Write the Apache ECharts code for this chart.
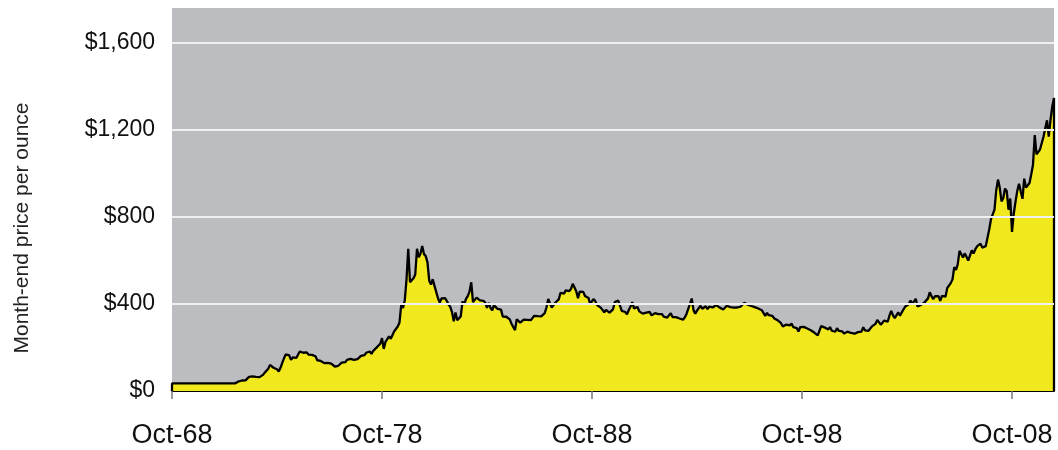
<!DOCTYPE html>
<html>
<head>
<meta charset="utf-8">
<script src="https://cdn.jsdelivr.net/npm/echarts@6/dist/echarts.min.js"></script>
<style>
html,body{margin:0;padding:0;background:#fff;}
#chart{width:1058px;height:450px;}
</style>
</head>
<body>
<div id="chart"></div>
<script>
// Month-end gold price (USD/oz), monthly from Oct-68 to Oct-10
const prices1968to1979 = [
  35,35,35,
  35,35,35,35,35,35,35,35,35,35,35,35,
  35,35,35,35,35,35,35,35,35,35,35,35,
  35,35,35,35,35,35,35,35,35,35,35,43.6,
  45.8,48.3,48.3,49.0,54.6,65.1,67.0,67.0,65.0,64.9,62.9,63.9,
  65.1,74.2,84.5,90.5,102.0,120.0,120.0,106.8,103.0,100.1,90.0,106.7,
  129.2,150.2,168.4,172.2,163.3,143.0,154.1,154.7,151.8,158.8,181.7,186.5,
  175.8,181.8,177.3,167.0,167.0,166.3,166.7,159.8,141.3,142.9,138.2,140.3,
  128.2,132.3,129.6,128.4,125.5,123.8,112.5,104.0,116.0,123.2,130.3,134.5,
  132.3,142.8,148.9,147.3,143.0,143.0,144.1,146.6,154.1,161.5,160.5,165.0,
  175.9,182.3,181.6,170.9,184.2,183.1,200.3,208.1,217.1,242.6,193.4,226.0,
  233.7,251.3,240.1,245.3,274.6,277.5,296.5,315.1,397.3,382.0,415.7,512.0
];
const prices1980s = [
  653.0,500.0,494.5,518.0,535.5,653.5,614.3,631.3,666.8,629.0,619.8,589.8,
  506.5,489.0,513.8,482.8,479.3,426.0,406.0,425.0,428.8,427.0,414.5,397.5,
  387.0,362.6,320.0,361.3,325.3,317.5,342.9,411.5,397.0,423.3,436.0,456.9,
  499.5,408.5,414.8,429.3,437.5,416.0,422.0,414.3,405.0,382.0,405.0,381.5,
  370.3,394.3,394.5,377.5,384.3,373.8,342.4,347.5,341.3,333.5,329.0,309.0,
  306.7,280.0,329.8,321.4,314.0,317.8,327.5,333.3,326.5,325.1,325.3,326.8,
  345.5,338.2,344.0,345.8,342.9,345.5,357.5,384.7,423.2,401.0,383.5,390.9,
  405.5,405.9,421.1,451.3,451.0,447.3,462.5,453.4,459.5,468.8,492.5,484.1,
  458.0,426.2,457.0,449.0,455.5,436.6,436.8,427.8,397.7,412.4,422.6,410.2,
  394.0,387.0,383.2,377.6,361.8,373.0,368.3,359.8,366.5,375.3,408.2,401.0
];
const prices1990s = [
  415.1,407.7,368.5,367.8,363.1,352.2,372.3,387.8,408.4,379.5,384.9,386.2,
  366.0,362.7,355.7,357.8,360.4,368.4,363.0,347.4,354.9,357.5,366.3,353.2,
  354.1,353.1,341.7,336.4,337.5,343.4,357.8,340.0,349.0,339.3,334.2,333.0,
  330.5,327.6,337.8,354.3,377.5,378.5,425.0,371.6,355.5,369.6,370.9,391.8,
  377.9,381.6,389.2,376.5,387.6,387.1,384.0,385.8,394.9,389.1,383.1,383.3,
  374.9,376.4,392.0,389.8,385.3,387.1,383.4,383.4,383.7,382.7,387.9,387.0,
  405.6,400.7,396.4,391.3,390.6,382.0,385.3,386.5,379.0,379.5,371.3,369.3,
  345.5,358.6,348.2,340.2,345.6,334.6,326.4,325.4,332.1,311.4,296.8,290.2,
  304.9,297.4,301.5,310.7,293.6,296.3,288.9,273.4,293.9,292.3,294.7,287.5,
  287.1,287.3,279.5,286.6,268.6,261.3,255.6,254.8,299.0,299.1,291.4,290.3
];
const prices2000s = [
  283.3,293.7,276.8,275.1,272.3,288.2,276.8,277.0,273.7,264.5,269.1,272.7,
  264.5,266.7,257.7,263.2,267.5,270.6,265.9,273.0,293.1,278.8,275.5,276.5,
  282.3,296.9,301.4,308.2,326.6,318.5,304.7,312.8,323.7,316.9,319.1,347.2,
  367.5,347.5,334.9,336.8,361.4,346.0,354.8,375.6,388.0,386.3,398.4,416.3,
  399.8,395.9,423.7,388.5,393.3,395.8,391.4,407.3,415.7,425.6,453.4,435.6,
  422.2,435.5,427.5,435.7,414.5,437.1,429.0,433.3,473.3,470.8,495.7,513.0,
  568.8,556.0,582.0,644.0,653.0,613.5,632.5,623.5,599.3,603.8,646.7,632.0,
  650.5,664.2,661.8,677.0,659.1,650.5,665.5,672.0,743.0,789.5,783.5,833.8,
  923.3,971.5,933.5,871.0,885.8,930.3,918.0,833.0,884.5,730.8,814.5,869.8,
  919.5,952.0,916.5,883.3,975.5,934.5,939.0,955.5,995.8,1040.0,1175.8,1087.5,
  1078.5,1109.5,1115.5,1168.5,1207.5,1244.0,1169.0,1246.0,1307.0,1346.8
];
const xTickLabels = ['Oct-68','Oct-78','Oct-88','Oct-98','Oct-08'];
const xTickMonths = [0,120,240,360,480];
const yTickValues = [0,400,800,1200,1600];
const yAxisTitle = 'Month-end price per ounce';

const prices = [].concat(prices1968to1979, prices1980s, prices1990s, prices2000s);
const lastIdx = prices.length - 1;
const seriesData = [[0,0]].concat(prices.map((v,i)=>[i,v]), [[lastIdx,0]]);

function money(v){ return '$' + String(v).replace(/\B(?=(\d{3})+(?!\d))/g, ','); }

const chart = echarts.init(document.getElementById('chart'), null, {renderer:'canvas'});
chart.setOption({
  animation:false,
  grid:{left:172, right:4, top:8, bottom:59, show:true, backgroundColor:'#BCBDC1', borderWidth:0},
  xAxis:{
    type:'value', min:0, max:lastIdx,
    axisLine:{show:true, lineStyle:{color:'#000', width:2}},
    axisTick:{show:true, customValues:xTickMonths, length:8, lineStyle:{color:'#777', width:1.5}},
    axisLabel:{customValues:xTickMonths, margin:31, fontFamily:'Liberation Sans', fontSize:27, color:'#111',
      formatter:(v)=>xTickLabels[xTickMonths.indexOf(Math.round(v))] || ''},
    splitLine:{show:false}
  },
  yAxis:{
    type:'value', min:0, max:1760,
    axisLine:{show:false}, axisTick:{show:false},
    axisLabel:{customValues:yTickValues, margin:17, fontFamily:'Liberation Sans', fontSize:23, color:'#111',
      formatter:(v)=>money(v)},
    splitLine:{show:false}
  },
  graphic:{
    elements:[{
      type:'text', x:22, y:228, rotation:Math.PI/2,
      style:{text:yAxisTitle, fontFamily:'Liberation Sans', fontSize:21, fill:'#222',
        align:'center', verticalAlign:'middle'}
    }]
  },
  series:[
    {
      type:'line', z:1, data:[[0,0]], symbol:'none', lineStyle:{opacity:0}, silent:true,
      markLine:{silent:true, symbol:'none', label:{show:false},
        lineStyle:{color:'#F0F0F0', width:2, type:'solid'},
        data:yTickValues.filter(v=>v>0).map(v=>({yAxis:v}))}
    },
    {
      type:'line', z:3, data:seriesData, symbol:'none', showSymbol:false,
      lineStyle:{color:'#000', width:2.3},
      itemStyle:{color:'#000'},
      areaStyle:{color:'#F2E81E', opacity:1}
    }
  ]
});
</script>
</body>
</html>
